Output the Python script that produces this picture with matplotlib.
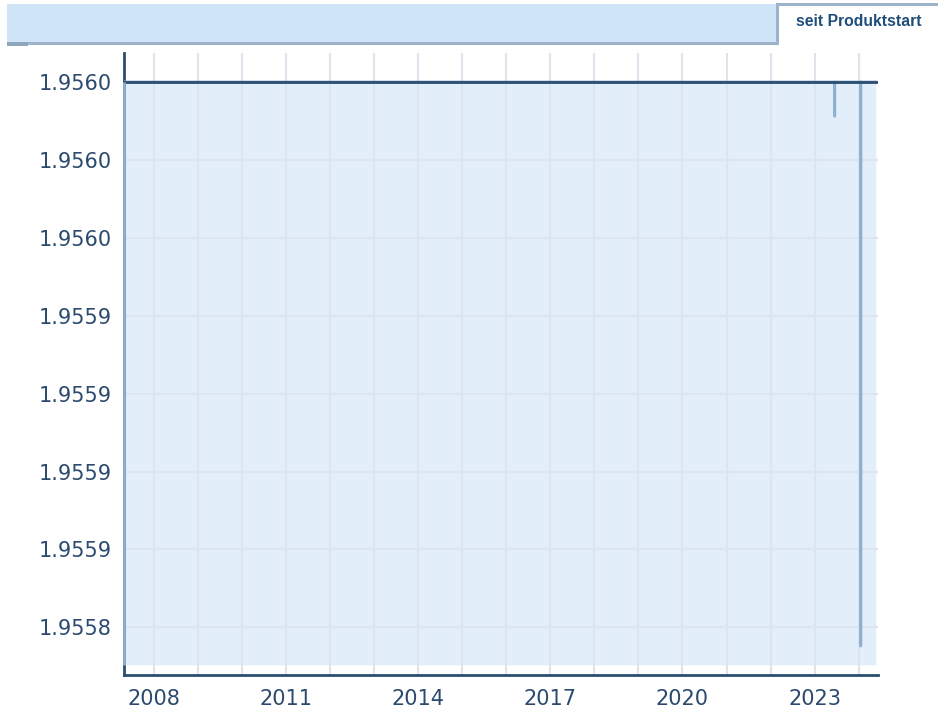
"""Seit Produktstart: price line with fill, header tab on top."""

import matplotlib
matplotlib.use("Agg")
import matplotlib.dates as mdates
import matplotlib.pyplot as plt
import numpy as np
from matplotlib.patches import Rectangle

# data
dates = np.array(["2007-04-27", "2023-06-16", "2023-06-17", "2023-06-18",
                  "2024-01-18", "2024-01-19", "2024-01-20", "2024-05-23"],
                 dtype="datetime64[D]")
values = [1.95600, 1.95600, 1.955989, 1.95600,
          1.95600, 1.955819, 1.95600, 1.95600]
baseline = 1.955813

y_ticks = [1.956, 1.955975, 1.95595, 1.955925, 1.9559, 1.955875, 1.95585, 1.955825]
y_labels = ["1.9560", "1.9560", "1.9560", "1.9559", "1.9559", "1.9559", "1.9559", "1.9558"]
x_tick_years = [2008, 2011, 2014, 2017, 2020, 2023]
grid_years = list(range(2008, 2025))

# colours
dark = "#2c4d70"
light_line = "#8eb0d1"
fill_col = "#e2eef9"
grid_col = "#dde4eb"
text_col = "#2b4a6e"

W, H = 938, 709
fig = plt.figure(figsize=(W / 100, H / 100), dpi=100)

# header band + tab
fig.patches.append(Rectangle((7 / W, 1 - 43 / H), 770 / W, 39 / H,
                             transform=fig.transFigure, facecolor="#cfe4f7",
                             edgecolor="none", zorder=0))
fig.patches.append(Rectangle((7 / W, 1 - 45 / H), 770 / W, 3 / H,
                             transform=fig.transFigure, facecolor="#9cb3c9",
                             edgecolor="none", zorder=1))
fig.patches.append(Rectangle((7 / W, 1 - 46 / H), 21 / W, 4 / H,
                             transform=fig.transFigure, facecolor="#8ea5bb",
                             edgecolor="none", zorder=1))
fig.patches.append(Rectangle((776 / W, 1 - 6 / H), (W - 776) / W, 3 / H,
                             transform=fig.transFigure, facecolor="#9cb3c9",
                             edgecolor="none", zorder=1))
fig.patches.append(Rectangle((776 / W, 1 - 45 / H), 3 / W, 42 / H,
                             transform=fig.transFigure, facecolor="#9cb3c9",
                             edgecolor="none", zorder=1))
fig.text(859 / W, 1 - 22 / H, "seit Produktstart", ha="center", va="center",
         fontsize=11.3, fontweight="bold", color="#1f4e79",
         family=["Liberation Sans", "DejaVu Sans"])

ax = fig.add_axes([124 / W, (H - 675) / H, (878 - 124) / W, (675 - 53) / H])

x = mdates.date2num(dates)
ax.fill_between(x, values, baseline, color=fill_col, lw=0, zorder=0.2)
# left edge of the area, drawn over the axis line
ax.vlines(x[0], baseline, values[0], color=light_line, lw=2, zorder=5,
          clip_on=False)
ax.plot(x, values, color=light_line, lw=2, zorder=3)
ax.axhline(1.956, color=dark, lw=2, zorder=4)

ax.set_ylim(1.9558097, 1.9560093)
ax.set_xlim(x[0], mdates.date2num(np.datetime64("2024-06-10")))

ax.set_yticks(y_ticks)
ax.set_yticklabels(y_labels)
ax.set_xticks([mdates.date2num(np.datetime64(f"{y}-01-01")) for y in x_tick_years])
ax.set_xticklabels([str(y) for y in x_tick_years])
ax.set_xticks([mdates.date2num(np.datetime64(f"{y}-01-01")) for y in grid_years],
              minor=True)

ax.grid(True, which="both", color=grid_col, lw=1.5)
ax.set_axisbelow(True)
ax.tick_params(which="both", length=0)
ax.tick_params(axis="y", pad=9, labelsize=15, labelcolor=text_col)
ax.tick_params(axis="x", pad=10, labelsize=15, labelcolor=text_col)

for side in ("top", "right"):
    ax.spines[side].set_visible(False)
for side in ("left", "bottom"):
    ax.spines[side].set_color(dark)
    ax.spines[side].set_linewidth(2)

fig.savefig("out.png", dpi=100)
